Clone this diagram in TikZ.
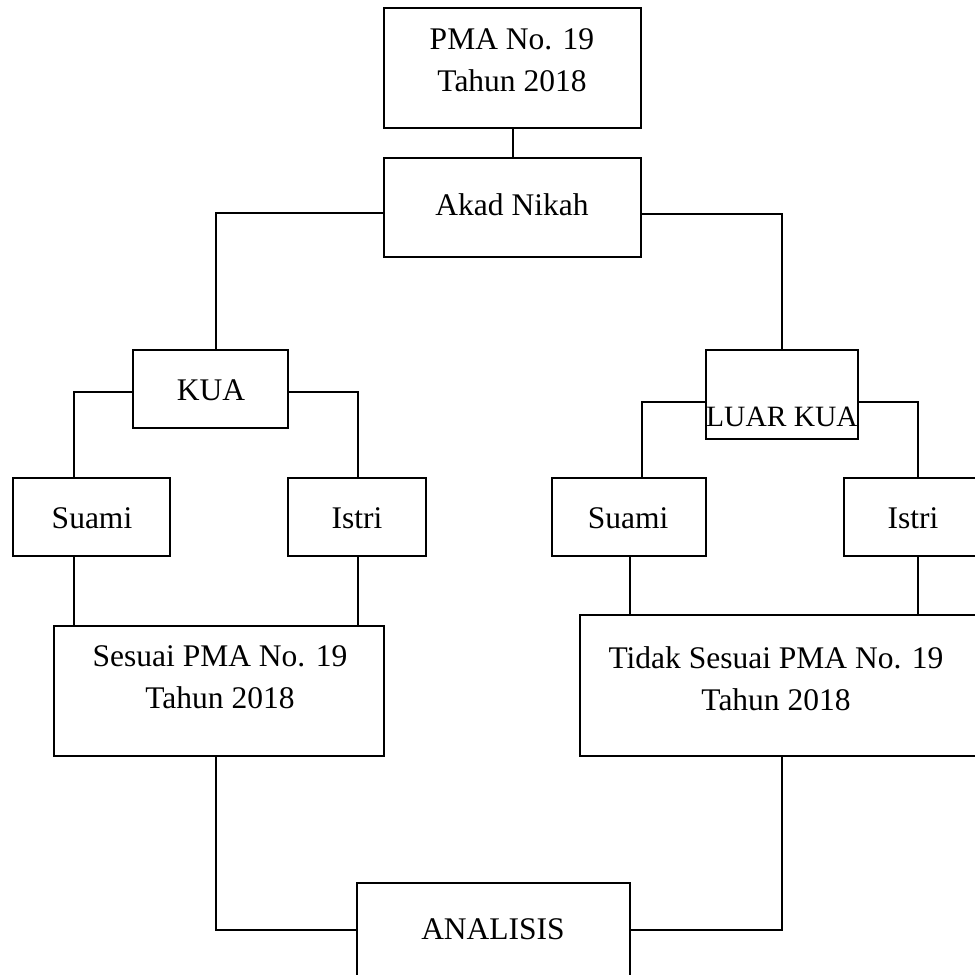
\documentclass[tikz,border=0pt]{standalone}
\usepackage{fontspec}
\setmainfont{Liberation Serif}
\begin{document}
\begin{tikzpicture}[x=1pt,y=-1pt,
  box/.style={draw, rectangle, inner sep=0pt, line width=2pt},
  txt/.style={inner sep=0pt, align=center, font=\fontsize{31.5}{42}\selectfont},
  conn/.style={line width=2pt}]
\useasboundingbox (0,0) rectangle (975,975);
% boxes
\node[box, minimum width=257pt, minimum height=120pt] (pma) at (512.5,68) {};
\node[box, minimum width=257pt, minimum height=99pt] (akad) at (512.5,207.5) {};
\node[box, minimum width=155pt, minimum height=78pt] (kua) at (210.5,389) {};
\node[box, minimum width=152pt, minimum height=89pt] (luar) at (782,394.5) {};
\node[box, minimum width=157pt, minimum height=78pt] (suamiL) at (91.5,517) {};
\node[box, minimum width=138pt, minimum height=78pt] (istriL) at (357,517) {};
\node[box, minimum width=154pt, minimum height=78pt] (suamiR) at (629,517) {};
\node[box, minimum width=138pt, minimum height=78pt] (istriR) at (913,517) {};
\node[box, minimum width=330pt, minimum height=130pt] (sesuai) at (219,691) {};
\node[box, minimum width=396pt, minimum height=141pt] (tidak) at (778,685.5) {};
\node[box, minimum width=273pt, minimum height=93pt] (analisis) at (493.5,929.5) {};
% texts
\node[txt] (pmaT) at (512,60) {PMA No. 19\\Tahun 2018};
\node[txt] (akadT) at (512,205) {Akad Nikah};
\node[txt] (kuaT) at (211,390) {KUA};
\node[txt, font=\fontsize{29.5}{36}\selectfont] (luarT) at (782,417) {LUAR KUA};
\node[txt] (suamiLT) at (92,518) {Suami};
\node[txt] (istriLT) at (357,518) {Istri};
\node[txt] (suamiRT) at (628,518) {Suami};
\node[txt] (istriRT) at (913,518) {Istri};
\node[txt] (sesuaiT) at (220,677) {Sesuai PMA No. 19\\Tahun 2018};
\node[txt] (tidakT) at (776,679) {Tidak Sesuai PMA No. 19\\Tahun 2018};
\node[txt] (analisisT) at (493,929) {ANALISIS};
% connectors
\draw[conn] (pma.south) -- (akad.north);
\draw[conn] ([yshift=-5.5pt]akad.west) -| ([xshift=5.5pt]kua.north);
\draw[conn] ([yshift=-6.5pt]akad.east) -| (luar.north);
\draw[conn] ([yshift=-3pt]kua.west) -| ([xshift=-17.5pt]suamiL.north);
\draw[conn] ([yshift=-3pt]kua.east) -| ([xshift=1pt]istriL.north);
\draw[conn] ([yshift=-7.5pt]luar.west) -| ([xshift=13pt]suamiR.north);
\draw[conn] ([yshift=-7.5pt]luar.east) -| ([xshift=5pt]istriR.north);
\draw[conn] ([xshift=-17.5pt]suamiL.south) -- ([xshift=-17.5pt]suamiL.south |- sesuai.north);
\draw[conn] ([xshift=1pt]istriL.south) -- ([xshift=1pt]istriL.south |- sesuai.north);
\draw[conn] ([xshift=1pt]suamiR.south) -- ([xshift=1pt]suamiR.south |- tidak.north);
\draw[conn] ([xshift=5pt]istriR.south) -- ([xshift=5pt]istriR.south |- tidak.north);
\draw[conn] ([xshift=-3pt]sesuai.south) |- (analisis.west);
\draw[conn] ([xshift=4pt]tidak.south) |- (analisis.east);
\end{tikzpicture}
\end{document}
